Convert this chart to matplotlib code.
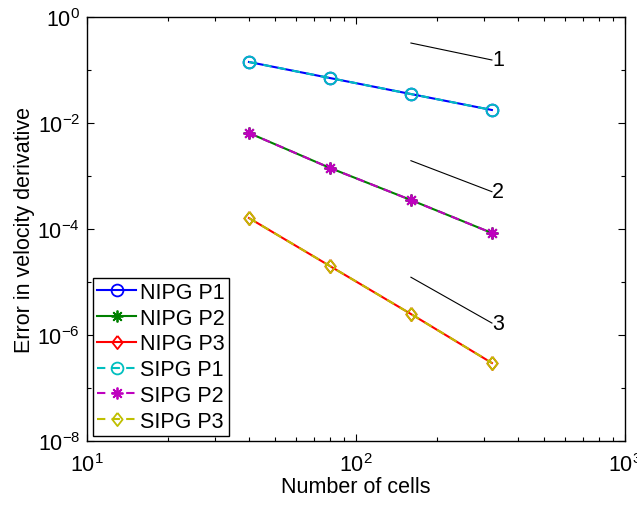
import numpy as np
import matplotlib
matplotlib.use('agg')
import matplotlib.pyplot as plt
from matplotlib.ticker import LogLocator, NullFormatter

plt.rcParams['font.family'] = ['Liberation Sans', 'DejaVu Sans']
plt.rcParams['mathtext.fontset'] = 'custom'
plt.rcParams['mathtext.rm'] = 'Liberation Sans'
plt.rcParams['mathtext.it'] = 'Liberation Sans:italic'
plt.rcParams['mathtext.bf'] = 'Liberation Sans:bold'

# mesh sizes and errors
cells = [40, 80, 160, 320]
err_p1 = [0.1416, 0.0706, 0.0352, 0.0176]
err_p2 = [6.48e-3, 1.42e-3, 3.52e-4, 8.4e-5]
err_p3 = [1.61e-4, 2.0e-5, 2.49e-6, 2.96e-7]

# slope guide segments
slope_x = [160, 320]
slope1_y = [0.323, 0.1545]
slope2_y = [1.945e-3, 5.06e-4]
slope3_y = [1.23e-5, 1.68e-6]
slope_labels = ['1', '2', '3']

diamond = [(0, 1), (0.78, 0), (0, -1), (-0.78, 0), (0, 1)]
asterisk = (8, 2, 0)

fig = plt.figure(figsize=(6.37, 5.06), dpi=100)
ax = fig.add_axes([0.1366, 0.1265, 0.8446, 0.8379])

fs = 15.5
ms = 8.5
lw = 1.5

ax.plot(cells, err_p1, '-', color='b', marker='o', mfc='none', ms=ms, lw=lw, mew=1.3, label='NIPG P1')
ax.plot(cells, err_p2, '-', color=(0, 0.5, 0), marker=asterisk, ms=ms, lw=lw, mew=1.3, label='NIPG P2')
ax.plot(cells, err_p3, '-', color='r', marker=diamond, mfc='none', ms=ms + 1, lw=lw, mew=1.3, label='NIPG P3')
ax.plot(cells, err_p1, '--', color=(0, 0.75, 0.75), marker='o', mfc='none', ms=ms, lw=lw, mew=1.3,
        dashes=(4, 3), label='SIPG P1')
ax.plot(cells, err_p2, '--', color=(0.75, 0, 0.75), marker=asterisk, ms=ms, lw=lw, mew=1.3,
        dashes=(4, 3), label='SIPG P2')
ax.plot(cells, err_p3, '--', color=(0.75, 0.75, 0), marker=diamond, mfc='none', ms=ms + 1, lw=lw, mew=1.3,
        dashes=(4, 3), label='SIPG P3')

for sy, lab in zip([slope1_y, slope2_y, slope3_y], slope_labels):
    ax.plot(slope_x, sy, '-', color='k', lw=0.8)
    ax.text(slope_x[1], sy[1], lab, fontsize=fs, ha='left', va='center')

ax.set_xscale('log')
ax.set_yscale('log')
ax.set_xlim(10, 1000)
ax.set_ylim(1e-8, 1)
ax.set_yticks([1e-8, 1e-6, 1e-4, 1e-2, 1])
ax.yaxis.set_minor_locator(LogLocator(base=10, numticks=20))
ax.yaxis.set_minor_formatter(NullFormatter())
ax.xaxis.set_minor_locator(LogLocator(base=10, subs=np.arange(2, 10), numticks=20))
ax.xaxis.set_minor_formatter(NullFormatter())

ax.tick_params(which='both', direction='in', top=True, right=True, labelsize=fs, width=0.8)
ax.tick_params(which='major', length=5)
ax.tick_params(axis='x', which='major', pad=9)
ax.tick_params(axis='y', which='major', pad=5)
ax.tick_params(which='minor', length=3)
for s in ax.spines.values():
    s.set_linewidth(1.0)

ax.set_xlabel('Number of cells', fontsize=fs, labelpad=0)
ax.set_ylabel('Error in velocity derivative', fontsize=fs, labelpad=2)

leg = ax.legend(loc='lower left', bbox_to_anchor=(0.011, 0.012), borderaxespad=0,
                fontsize=fs, fancybox=False, edgecolor='k', framealpha=1,
                handlelength=1.8, handletextpad=0.2, labelspacing=0.22, borderpad=0.2)
leg.get_frame().set_linewidth(1.0)

fig.savefig('out.png', dpi=100)
